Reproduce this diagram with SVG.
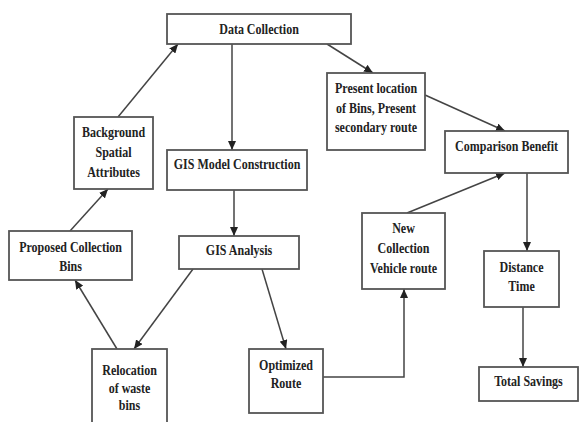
<svg xmlns="http://www.w3.org/2000/svg" width="579" height="422" viewBox="0 0 579 422">
<defs>
<style>
.box{fill:#fff;stroke:#555;stroke-width:1.8}
.t{font-family:"Liberation Serif","Times New Roman",serif;font-weight:bold;font-size:15px;fill:#222;text-anchor:middle;transform-box:fill-box;transform-origin:center;transform:scaleX(0.8)}
.c{fill:none;stroke:#444;stroke-width:1.5}
</style>
<marker id="ah" markerUnits="userSpaceOnUse" markerWidth="10" markerHeight="8" refX="9" refY="4" orient="auto">
<path d="M0,0 L9,4 L0,8 Z" fill="#222"/>
</marker>
</defs>
<rect width="579" height="422" fill="#fff"/>
<g id="connectors">
<line class="c" x1="232" y1="44" x2="232" y2="150" marker-end="url(#ah)"/>
<line class="c" x1="327" y1="44" x2="373" y2="73" marker-end="url(#ah)"/>
<line class="c" x1="425" y1="95" x2="505" y2="131" marker-end="url(#ah)"/>
<line class="c" x1="407" y1="213" x2="505" y2="173" marker-end="url(#ah)"/>
<line class="c" x1="527" y1="173" x2="527" y2="251" marker-end="url(#ah)"/>
<line class="c" x1="523" y1="307" x2="523" y2="367" marker-end="url(#ah)"/>
<polyline class="c" points="323,377 404,377 404,289" marker-end="url(#ah)"/>
<line class="c" x1="234" y1="190" x2="234" y2="236" marker-end="url(#ah)"/>
<line class="c" x1="193" y1="269" x2="134" y2="349" marker-end="url(#ah)"/>
<line class="c" x1="262" y1="269" x2="286" y2="349" marker-end="url(#ah)"/>
<line class="c" x1="117" y1="349" x2="75" y2="280" marker-end="url(#ah)"/>
<line class="c" x1="70" y1="231" x2="108" y2="189" marker-end="url(#ah)"/>
<line class="c" x1="118" y1="117" x2="178" y2="44" marker-end="url(#ah)"/>
</g>
<g id="data-collection">
<rect class="box" x="167" y="14" width="184" height="30"/>
<text class="t" x="259" y="34">Data Collection</text>
</g>
<g id="background">
<rect class="box" x="74" y="117" width="79" height="72"/>
<text class="t" x="113.5" y="137">Background</text>
<text class="t" x="113.5" y="157">Spatial</text>
<text class="t" x="113.5" y="177">Attributes</text>
</g>
<g id="proposed">
<rect class="box" x="9" y="231" width="123" height="49"/>
<text class="t" x="70.5" y="252">Proposed Collection</text>
<text class="t" x="70.5" y="271">Bins</text>
</g>
<g id="gis-model">
<rect class="box" x="167" y="150" width="140" height="40"/>
<text class="t" x="237" y="169">GIS Model Construction</text>
</g>
<g id="gis-analysis">
<rect class="box" x="179" y="236" width="120" height="33"/>
<text class="t" x="239" y="255">GIS Analysis</text>
</g>
<g id="present-location">
<rect class="box" x="327" y="73" width="98" height="77"/>
<text class="t" x="376" y="93">Present location</text>
<text class="t" x="376" y="113">of Bins, Present</text>
<text class="t" x="376" y="132">secondary route</text>
</g>
<g id="comparison">
<rect class="box" x="445" y="131" width="123" height="42"/>
<text class="t" x="506.5" y="151">Comparison Benefit</text>
</g>
<g id="new-route">
<rect class="box" x="362" y="213" width="83" height="76"/>
<text class="t" x="403.5" y="233">New</text>
<text class="t" x="403.5" y="253">Collection</text>
<text class="t" x="403.5" y="273">Vehicle route</text>
</g>
<g id="distance-time">
<rect class="box" x="484" y="251" width="75" height="56"/>
<text class="t" x="521.5" y="272">Distance</text>
<text class="t" x="521.5" y="291">Time</text>
</g>
<g id="total-savings">
<rect class="box" x="479" y="367" width="99" height="34"/>
<text class="t" x="528.5" y="386">Total Savings</text>
</g>
<g id="relocation">
<rect class="box" x="92" y="349" width="75" height="76"/>
<text class="t" x="129.5" y="375">Relocation</text>
<text class="t" x="129.5" y="393">of waste</text>
<text class="t" x="129.5" y="410">bins</text>
</g>
<g id="optimized">
<rect class="box" x="249" y="349" width="74" height="64"/>
<text class="t" x="286" y="370">Optimized</text>
<text class="t" x="286" y="388">Route</text>
</g>
</svg>
